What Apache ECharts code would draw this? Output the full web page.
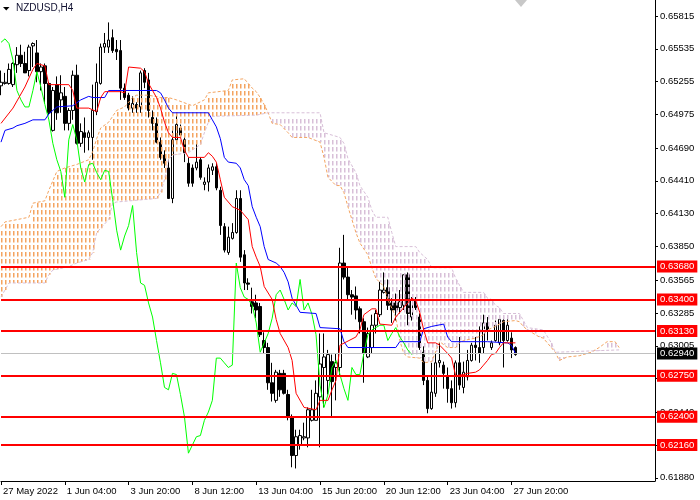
<!DOCTYPE html>
<html>
<head>
<meta charset="utf-8">
<script src="https://cdn.jsdelivr.net/npm/echarts@6/dist/echarts.min.js"></script>
<style>
html, body { margin: 0; padding: 0; background: #fff; }
#chart { width: 700px; height: 500px; }
</style>
</head>
<body>
<div id="chart"></div>
<script>
// NZDUSD H4 with Ichimoku, levels on the right axis

var FONT = 'Tahoma, "Liberation Sans", "DejaVu Sans", sans-serif';

var timeLabels = ['27 May 2022', '1 Jun 04:00', '3 Jun 20:00', '8 Jun 12:00', '13 Jun 04:00',
    '15 Jun 20:00', '20 Jun 12:00', '23 Jun 04:00', '27 Jun 20:00'];

var priceTicks = [0.65815, 0.65535, 0.65255, 0.64975, 0.64690, 0.64410, 0.64130, 0.63850,
    0.63565, 0.63285, 0.63005, 0.62725, 0.62440, 0.62160, 0.61880];

var levels = [0.6368, 0.6340, 0.6313, 0.6275, 0.6240, 0.6216];
var lastPrice = 0.6294;

//candles
var opens = [.6522,.6524,.6524,.6523,.6540,.6548,.6541,.6535,.6556,.6550,
.6534,.6539,.6524,.6484,.6523,.6510,.6513,.6490,.6501,.6531,
.6473,.6482,.6478,.6478,.6500,.6524,.6555,.6555,.6563,.6553,
.6552,.6520,.6514,.6503,.6506,.6504,.6535,.6527,.6495,.6490,
.6474,.6463,.6452,.6426,.6476,.6486,.6476,.6456,.6452,.6452,
.6459,.6438,.6440,.6450,.6453,.6433,.6402,.6380,.6392,.6397,
.6426,.6378,.6354,.6338,.6337,.6334,.6305,.6299,.6269,.6254,
.6277,.6277,.6259,.6240,.6207,.6216,.6222,.6222,.6237,.6237,
.6257,.6282,.6271,.6287,.6282,.6282,.6371,.6359,.6344,.6343,
.6332,.6321,.6291,.6299,.6318,.6327,.6346,.6350,.6337,.6337,
.6333,.6335,.6361,.6325,.6340,.6325,.6295,.6271,.6247,.6260,
.6286,.6284,.6274,.6264,.6252,.6286,.6265,.6274,.6288,.6301,
.6299,.6299,.6320,.6299,.6305,.6303,.6322,.6305,.6307,.6299];

var closes = [.6525,.6525,.6536,.6541,.6548,.6541,.6533,.6555,.6558,.6534,
.6538,.6524,.6499,.6518,.6499,.6516,.6490,.6501,.6531,.6473,
.6483,.6478,.6482,.6501,.6525,.6555,.6558,.6561,.6552,.6551,
.6520,.6512,.6503,.6507,.6503,.6533,.6525,.6501,.6490,.6474,
.6461,.6456,.6426,.6476,.6489,.6480,.6465,.6439,.6439,.6457,
.6444,.6440,.6452,.6453,.6435,.6403,.6382,.6393,.6397,.6426,
.6376,.6354,.6353,.6334,.6331,.6310,.6299,.6269,.6260,.6278,
.6263,.6260,.6240,.6207,.6223,.6224,.6223,.6246,.6246,.6260,
.6285,.6291,.6293,.6270,.6286,.6371,.6359,.6344,.6342,.6331,
.6321,.6294,.6311,.6318,.6328,.6348,.6348,.6335,.6331,.6331,
.6338,.6361,.6328,.6340,.6333,.6299,.6271,.6247,.6261,.6286,
.6288,.6277,.6264,.6252,.6286,.6267,.6278,.6288,.6301,.6299,
.6294,.6320,.6314,.6303,.6318,.6323,.6305,.6318,.6297,.6293];

var lows = [.6514,.6523,.6523,.6521,.6533,.6538,.6533,.6530,.6538,.6525,
.6518,.6507,.6497,.6483,.6493,.6499,.6484,.6484,.6493,.6472,
.6470,.6465,.6467,.6459,.6497,.6523,.6550,.6550,.6550,.6544,
.6510,.6510,.6501,.6499,.6499,.6499,.6520,.6495,.6484,.6473,
.6459,.6452,.6426,.6422,.6474,.6478,.6457,.6436,.6436,.6450,
.6442,.6433,.6432,.6446,.6433,.6395,.6380,.6378,.6391,.6396,
.6372,.6348,.6348,.6328,.6324,.6308,.6294,.6263,.6253,.6252,
.6257,.6259,.6237,.6197,.6196,.6212,.6220,.6214,.6236,.6237,
.6214,.6248,.6259,.6239,.6254,.6274,.6357,.6340,.6327,.6323,
.6311,.6269,.6290,.6294,.6311,.6325,.6345,.6331,.6320,.6322,
.6328,.6331,.6318,.6322,.6331,.6297,.6267,.6243,.6246,.6257,
.6282,.6264,.6252,.6247,.6248,.6263,.6260,.6271,.6287,.6288,
.6286,.6294,.6305,.6297,.6304,.6301,.6282,.6304,.6290,.6292];

var highs = [.6535,.6533,.6541,.6542,.6555,.6557,.6551,.6557,.6559,.6561,
.6541,.6541,.6525,.6521,.6530,.6531,.6521,.6503,.6535,.6540,
.6490,.6495,.6484,.6523,.6541,.6558,.6567,.6576,.6570,.6561,
.6561,.6524,.6516,.6513,.6508,.6535,.6537,.6533,.6501,.6495,
.6478,.6467,.6459,.6484,.6497,.6489,.6478,.6461,.6455,.6473,
.6461,.6444,.6455,.6456,.6456,.6436,.6405,.6402,.6405,.6433,
.6433,.6382,.6358,.6350,.6344,.6337,.6312,.6303,.6286,.6280,
.6280,.6280,.6263,.6242,.6229,.6229,.6235,.6248,.6263,.6271,
.6311,.6311,.6297,.6293,.6294,.6384,.6395,.6368,.6348,.6351,
.6334,.6324,.6316,.6327,.6331,.6355,.6363,.6357,.6341,.6345,
.6348,.6361,.6363,.6342,.6342,.6328,.6300,.6274,.6286,.6294,
.6303,.6287,.6282,.6271,.6288,.6308,.6287,.6297,.6303,.6308,
.6317,.6327,.6325,.6305,.6322,.6324,.6324,.6324,.6312,.6300];

//tenkan / kijun: [bar, price]
var tenkan = [[0,.6490],[3,.6503],[6,.6521],[8,.6536],[9,.6541],[11,.6539],[12,.6523],[17,.6523],
[18,.6518],[19,.6503],[22,.6503],[24,.6500],[25,.6512],[26,.6517],[30,.6517],[31,.6516],[32,.6538],
[35,.6537],[36,.6534],[37,.6524],[39,.6512],[40,.6503],[41,.6491],[42,.6482],[43,.6478],[45,.6478],
[46,.6467],[47,.6461],[51,.6461],[52,.6465],[53,.6462],[54,.6457],[55,.6442],[56,.6427],[58,.6419],
[60,.6416],[62,.6408],[63,.6385],[64,.6376],[65,.6368],[66,.6351],[68,.6340],[69,.6323],[70,.6311],
[72,.6299],[73,.6288],[74,.6260],[76,.6248],[79,.6246],[80,.6254],[82,.6254],[83,.6263],[84,.6271],
[85,.6301],[89,.6308],[90,.6314],[91,.6327],[93,.6332],[94,.6332],[95,.6319],[98,.6318],[99,.6325],
[101,.6333],[103,.6341],[104,.6339],[105,.6329],[106,.6314],[107,.6303],[109,.6303],[110,.6301],
[112,.6294],[113,.6290],[114,.6275],[116,.6276],[117,.6277],[119,.6278],[120,.6280],[121,.6284],
[122,.6288],[123,.6293],[124,.6294],[125,.6299],[126,.6303],[129,.6303]];

var kijun = [[0,.6474],[1,.6484],[3,.6486],[4,.6488],[6,.6490],[8,.6493],[11,.6493],[12,.6498],
[14,.6504],[18,.6505],[20,.6510],[22,.6513],[23,.6512],[26,.6512],[27,.6518],[39,.6518],[40,.6516],
[41,.6510],[42,.6503],[43,.6499],[52,.6499],[53,.6493],[54,.6487],[55,.6477],[56,.6461],[57,.6457],
[59,.6456],[60,.6452],[61,.6442],[62,.6437],[63,.6419],[64,.6410],[65,.6402],[66,.6385],[67,.6374],
[69,.6371],[70,.6368],[71,.6363],[72,.6355],[73,.6341],[74,.6335],[75,.6329],[79,.6328],[80,.6316],
[85,.6315],[86,.6304],[87,.6299],[99,.6299],[100,.6304],[105,.6304],[106,.6315],[108,.6317],
[111,.6319],[112,.6308],[113,.6304],[122,.6304],[127,.6303],[128,.6301],[129,.6294]];

//chikou, from bar 0
var chikou = [.6559,.6562,.6558,.6544,.6518,.6510,.6504,.6504,.6518,.6534,
.6521,.6506,.6493,.6473,.6459,.6449,.6427,.6476,.6489,.6476,
.6452,.6440,.6455,.6456,.6448,.6442,.6450,.6449,.6425,.6399,
.6382,.6394,.6403,.6420,.6380,.6354,.6352,.6337,.6325,.6305,
.6286,.6265,.6263,.6277,.6276,.6259,.6240,.6209,.6216,.6223,
.6224,.6237,.6244,.6254,.6290,.6290,.6286,.6282,.6284,.6371,
.6350,.6342,.6340,.6335,.6320,.6295,.6303,.6311,.6324,.6344,
.6348,.6340,.6331,.6337,.6334,.6357,.6331,.6337,.6327,.6310,
.6267,.6248,.6259,.6282,.6288,.6276,.6264,.6254,.6282,.6276,
.6276,.6294,.6310,.6314,.6316,.6318,.6318,.6305,.6311,.6316,
.6308,.6303,.6297,.6293];

//senkou spans: [bar, price]
var spanA = [[0,.6402],[1,.6406],[7,.6410],[8,.6422],[11,.6424],[12,.6433],[14,.6449],[16,.6452],
[19,.6455],[22,.6459],[23,.6466],[24,.6477],[25,.6486],[27,.6491],[29,.6501],[31,.6504],[33,.6512],
[34,.6514],[37,.6514],[40,.6512],[42,.6512],[44,.6510],[48,.6505],[51,.6510],[52,.6516],[57,.6518],
[58,.6527],[61,.6528],[62,.6524],[63,.6520],[64,.6517],[65,.6512],[66,.6506],[67,.6499],[68,.6490],
[70,.6489],[72,.6482],[73,.6478],[77,.6478],[80,.6474],[81,.6461],[82,.6444],[84,.6437],[85,.6437],
[86,.6431],[87,.6419],[88,.6408],[89,.6397],[90,.6388],[92,.6378],[93,.6367],[94,.6358],[96,.6351],
[97,.6340],[99,.6325],[100,.6305],[101,.6294],[102,.6291],[105,.6290],[106,.6286],[108,.6287],
[110,.6304],[112,.6299],[114,.6299],[115,.6303],[116,.6305],[119,.6307],[121,.6310],[122,.6314],
[124,.6317],[126,.6321],[129,.6322],[130,.6321],[131,.6317],[132,.6314],[135,.6308],[136,.6307],
[138,.6299],[139,.6295],[140,.6288],[142,.6291],[145,.6292],[148,.6295],[150,.6299],[152,.6304],
[154,.6304],[155,.6299]];

var spanB = [[0,.6342],[1,.6348],[2,.6354],[11,.6354],[12,.6361],[13,.6365],[17,.6368],[19,.6371],
[22,.6374],[23,.6380],[24,.6397],[27,.6408],[28,.6422],[29,.6423],[39,.6426],[40,.6431],[41,.6442],
[42,.6459],[43,.6463],[47,.6465],[50,.6472],[51,.6482],[52,.6491],[53,.6496],[64,.6497],[67,.6499],
[80,.6499],[81,.6482],[85,.6478],[86,.6473],[87,.6460],[89,.6448],[90,.6437],[92,.6427],[93,.6416],
[94,.6410],[97,.6410],[98,.6397],[99,.6385],[104,.6385],[105,.6380],[107,.6374],[108,.6367],
[113,.6367],[114,.6358],[116,.6346],[121,.6346],[122,.6341],[123,.6340],[124,.6335],[125,.6333],
[126,.6328],[130,.6328],[131,.6322],[132,.6316],[136,.6314],[138,.6303],[139,.6295],[155,.6297]];

var barCount = 165;
var labelStep = 16;
var kumoCross = 67; //span A drops under span B here

var categories = [];
for (var i = 0; i < barCount; i++) {
    var k = i / labelStep;
    categories.push(i % labelStep === 0 && k < timeLabels.length ? timeLabels[k] : '');
}
function labelAt(i) {
    return i % labelStep === 0 && i / labelStep < timeLabels.length;
}

var candles = opens.map(function(o, i) {
    return [o, closes[i], lows[i], highs[i]];
});

//edge of a span polyline at bar k, only for drawing the hatch
function edgeAt(poly, k) {
    for (var j = 0; j < poly.length - 1; j++) {
        var a = poly[j], b = poly[j + 1];
        if (k >= a[0] && k <= b[0]) {
            return a[1] + (b[1] - a[1]) * (k - a[0]) / (b[0] - a[0]);
        }
    }
    return poly[poly.length - 1][1];
}

//kumo: dotted vertical stroke per bar (MT4 histogram), drawn as one path
function kumo(upper, lower, color) {
    return {
        type: 'custom',
        silent: true,
        clip: true,
        z: 3,
        data: [upper[0]],
        renderItem: function(params, api) {
            var d = '';
            var from = upper[0][0], to = upper[upper.length - 1][0];
            for (var k = from; k <= to; k++) {
                var top = api.coord([k, edgeAt(upper, k)]);
                var bot = api.coord([k, edgeAt(lower, k)]);
                var x = Math.round(top[0]);
                var y1 = Math.min(top[1], bot[1]), y2 = Math.max(top[1], bot[1]);
                for (var y = Math.ceil(y1 / 7) * 7; y < y2; y += 7) {
                    var h = Math.min(4.5, y2 - y);
                    d += 'M' + x + ' ' + y + 'h1.5v' + h.toFixed(2) + 'h-1.5Z';
                }
            }
            return {
                type: 'path',
                shape: { pathData: d || 'M0 0' },
                style: { fill: color, stroke: null }
            };
        }
    };
}

var upKumo = kumo(spanA.filter(function(p) { return p[0] <= kumoCross; }),
    spanB.filter(function(p) { return p[0] <= kumoCross; }), '#f4a460');
var downKumo = kumo(spanB.filter(function(p) { return p[0] >= kumoCross; }),
    spanA.filter(function(p) { return p[0] >= kumoCross; }), '#d8bfd8');

function lineSeries(data, color, dash) {
    return {
        type: 'line',
        data: data,
        symbol: 'none',
        silent: true,
        z: 4,
        lineStyle: { color: color, width: 1, type: dash || 'solid' }
    };
}

var levelLabel = {
    show: true,
    position: 'end',
    distance: 2,
    formatter: function(p) { return Number(p.value).toFixed(5); },
    color: '#fff',
    backgroundColor: '#ff0000',
    padding: [1, 3, 0, 3],
    fontSize: 9.5,
    lineHeight: 11,
    fontFamily: FONT
};

var marks = levels.map(function(v) {
    return { yAxis: v, lineStyle: { color: '#ff0000', width: 2, type: 'solid' }, label: levelLabel };
});
marks.push({
    yAxis: lastPrice,
    lineStyle: { color: '#c0c0c0', width: 1, type: 'solid' },
    label: Object.assign({}, levelLabel, { backgroundColor: '#000' })
});

var chart = echarts.init(document.getElementById('chart'));

chart.setOption({
    animation: false,
    backgroundColor: '#fff',
    title: {
        text: 'NZDUSD,H4',
        left: 16,
        top: 3,
        padding: 0,
        textStyle: { fontSize: 10, fontWeight: 'normal', color: '#101030', fontFamily: FONT }
    },
    graphic: [
        { type: 'polygon', shape: { points: [[3, 7], [9.5, 7], [6.25, 10.5]] }, style: { fill: '#000' } },
        { type: 'polygon', shape: { points: [[515, 0], [527, 0], [521, 7]] }, style: { fill: '#c8c8c8' } }
    ],
    grid: { left: 0, right: 45, top: 0, bottom: 19 },
    xAxis: {
        type: 'category',
        data: categories,
        boundaryGap: false,
        axisLine: { lineStyle: { color: '#000', width: 1 } },
        axisTick: { length: 4, interval: labelAt, lineStyle: { color: '#000' } },
        axisLabel: {
            interval: labelAt,
            align: 'left',
            color: '#000',
            fontSize: 9.5,
            margin: 5,
            padding: [0, 0, 0, 2],
            fontFamily: FONT
        },
        splitLine: { show: false }
    },
    yAxis: {
        type: 'value',
        position: 'right',
        min: 0.61853,
        max: 0.65951,
        splitLine: { show: false },
        axisLine: { show: true, lineStyle: { color: '#000', width: 1 } },
        axisTick: { show: true, length: 3, customValues: priceTicks, lineStyle: { color: '#000' } },
        axisLabel: {
            customValues: priceTicks,
            formatter: function(v) { return v.toFixed(5); },
            color: '#000',
            fontSize: 9.5,
            margin: 5,
            fontFamily: FONT
        }
    },
    series: [
        {
            type: 'candlestick',
            data: candles,
            barWidth: 3,
            z: 2,
            silent: true,
            itemStyle: {
                color: '#fff',
                color0: '#000',
                borderColor: '#000',
                borderColor0: '#000',
                borderWidth: 1
            }
        },
        upKumo,
        downKumo,
        lineSeries(spanA, '#f4a460', [3, 2]),
        lineSeries(spanB, '#d8bfd8', [3, 2]),
        lineSeries(chikou, '#00ff00'),
        lineSeries(kijun, '#0000ff'),
        lineSeries(tenkan, '#ff0000'),
        {
            type: 'line',
            data: [],
            z: 10,
            markLine: {
                silent: true,
                animation: false,
                precision: 5,
                symbol: ['none', 'none'],
                data: marks
            }
        }
    ]
});
</script>
</body>
</html>
